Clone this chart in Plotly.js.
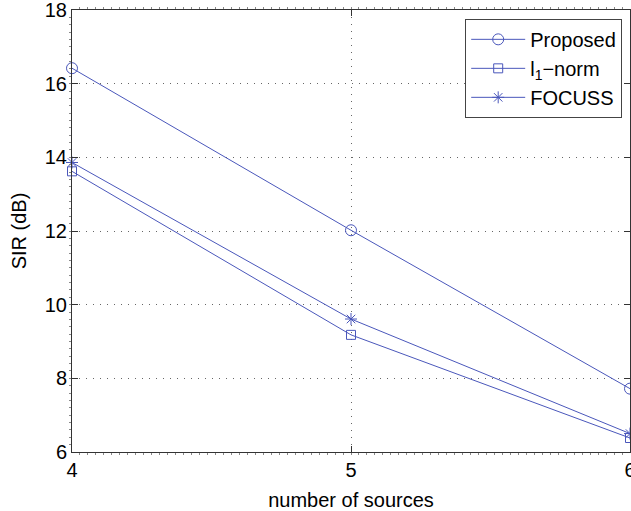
<!DOCTYPE html>
<html>
<head>
<meta charset="utf-8">
<script src="https://cdn.plot.ly/plotly-3.0.1.min.js"></script>
<style>html,body{margin:0;padding:0;background:#fff;}#chart{width:631px;height:511px;}</style>
</head>
<body>
<div id="chart"></div>
<script>
const sources = [4, 5, 6];
const proposed = [16.42, 12.02, 7.72];
const l1norm = [13.62, 9.18, 6.38];
const focuss = [13.86, 9.61, 6.50];
const seriesNames = ['Proposed', 'l<sub>1</sub>\u2212norm', 'FOCUSS'];
const yTicks = [6, 8, 10, 12, 14, 16, 18];
const xTicks = [4, 5, 6];

const lineColor = '#4a57bb';
const symbols = ['circle-open', 'square-open', 'asterisk-open'];
const sizes = [11, 9, 10];
const ys = [proposed, l1norm, focuss];
const FONT = 'Liberation Sans, Arial, sans-serif';

const traces = ys.map((y, i) => ({
  x: sources, y: y, name: seriesNames[i], type: 'scatter', mode: 'lines+markers',
  line: {color: lineColor, width: 1},
  marker: {symbol: symbols[i], size: sizes[i], color: lineColor, line: {color: lineColor, width: 1}},
  cliponaxis: false
}));

const axisCommon = {
  showline: true, mirror: 'ticks', linecolor: '#333', linewidth: 1,
  ticks: 'inside', ticklen: 6, tickcolor: '#333',
  showgrid: true, gridcolor: '#666', griddash: '1px,6px', gridwidth: 1,
  zeroline: false, ticklabeloverflow: 'allow',
  tickfont: {family: FONT, size: 20, color: '#000'}
};

const layout = {
  width: 631, height: 511,
  margin: {l: 72, r: 1, t: 10, b: 59},
  paper_bgcolor: '#fff', plot_bgcolor: '#fff',
  font: {family: FONT, color: '#000'},
  showlegend: true,
  legend: {
    x: 0.986, y: 0.98, xanchor: 'right', yanchor: 'top',
    bgcolor: '#fff', bordercolor: '#444', borderwidth: 1,
    font: {family: FONT, size: 20, color: '#000'},
    itemwidth: 54, tracegroupgap: 0
  },
  xaxis: Object.assign({}, axisCommon, {
    range: [4, 6], tickvals: xTicks, ticktext: xTicks.map(String),
    title: {text: 'number of sources', font: {size: 20}, standoff: 12},
    minor: {dtick: 1/35, ticklen: 2, tickcolor: '#888', showgrid: false}
  }),
  yaxis: Object.assign({}, axisCommon, {
    range: [6, 18], tickvals: yTicks, ticktext: yTicks.map(String),
    title: {text: 'SIR (dB)', font: {size: 20}, standoff: 12},
    minor: {dtick: 0.2, ticklen: 2, tickcolor: '#888', showgrid: false}
  })
};

Plotly.newPlot('chart', traces, layout, {displayModeBar: false, staticPlot: true});
</script>
</body>
</html>
